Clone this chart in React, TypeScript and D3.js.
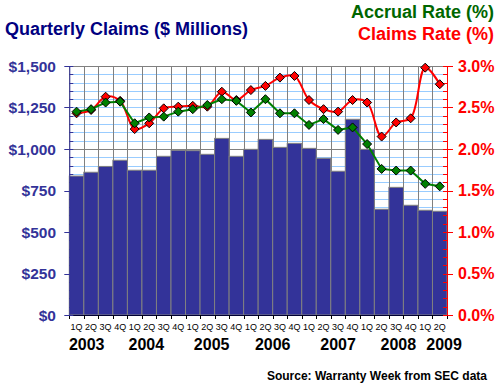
import React, { useEffect, useRef } from 'react';
import * as d3 from 'd3';

// 2003 Q1 .. 2009 Q2
const quarterLabels = ['1Q', '2Q', '3Q', '4Q'];
const years = ['2003', '2004', '2005', '2006', '2007', '2008', '2009'];
// where each year label sits, in quarter units from the left edge
const yearLabelCenters = [1.2, 5.3, 9.8, 14.0, 18.5, 22.65, 25.8];

const claims = [837, 860, 895, 932, 872, 872, 956, 992, 990, 968, 1064, 956, 998, 1058, 1010, 1034, 1004, 944, 866, 1179, 998, 637, 769, 661, 631, 625];
const accrualRate = [2.45, 2.48, 2.56, 2.57, 2.31, 2.38, 2.39, 2.45, 2.48, 2.53, 2.6, 2.58, 2.44, 2.6, 2.43, 2.43, 2.29, 2.36, 2.23, 2.26, 2.06, 1.76, 1.74, 1.74, 1.58, 1.55];
const claimsRate = [2.43, 2.47, 2.63, 2.58, 2.24, 2.31, 2.49, 2.51, 2.52, 2.51, 2.69, 2.59, 2.71, 2.76, 2.86, 2.88, 2.59, 2.48, 2.45, 2.59, 2.56, 2.15, 2.32, 2.37, 2.98, 2.78];

const leftTicks = [0, 250, 500, 750, 1000, 1250, 1500];
const rightTicks = [0, 0.5, 1.0, 1.5, 2.0, 2.5, 3.0];

const FONT = 'Liberation Sans, Arial, sans-serif';

const App = () => {
  const ref = useRef<SVGSVGElement>(null);

  useEffect(() => {
    const width = 500;
    const height = 387;
    const svg = d3.select(ref.current);
    svg.selectAll('*').remove();
    svg.attr('width', width).attr('height', height).style('background', '#fff');

    const quarters = claims.map((_, i) => `${years[Math.floor(i / 4)]}-${quarterLabels[i % 4]}`);

    const left = 69.3;
    const right = 447;
    const top = 66;
    const bottom = 315;

    const x = d3.scaleBand().domain(quarters).range([left, right]).padding(0);
    const yL = d3.scaleLinear().domain([0, 1500]).range([bottom, top]);
    const yR = d3.scaleLinear().domain([0, 3]).range([bottom, top]);
    const bw = x.bandwidth();
    const cx = (i: number) => (x(quarters[i]) as number) + bw / 2;

    // light blue minor grid
    const minor = d3.range(50, 1501, 50);
    svg.append('g')
      .selectAll('line')
      .data(minor)
      .enter()
      .append('line')
      .attr('x1', left)
      .attr('x2', right)
      .attr('y1', d => Math.round(yL(d)) + 0.5)
      .attr('y2', d => Math.round(yL(d)) + 0.5)
      .attr('stroke', d => (d % 500 === 0 ? '#808080' : '#99ccff'))
      .attr('stroke-width', 1);

    // vertical grey grid
    svg.append('g')
      .selectAll('line')
      .data(quarters)
      .enter()
      .append('line')
      .attr('x1', d => Math.round(x(d) as number) + 0.5)
      .attr('x2', d => Math.round(x(d) as number) + 0.5)
      .attr('y1', top)
      .attr('y2', bottom)
      .attr('stroke', '#808080')
      .attr('stroke-width', 1);

    // bars
    svg.append('g')
      .selectAll('rect')
      .data(claims)
      .enter()
      .append('rect')
      .attr('x', (d, i) => x(quarters[i]) as number)
      .attr('y', d => yL(d))
      .attr('width', bw)
      .attr('height', d => bottom - yL(d))
      .attr('fill', '#333399')
      .attr('stroke', '#808080')
      .attr('stroke-width', 1);

    // x axis
    svg.append('line')
      .attr('x1', left).attr('x2', right)
      .attr('y1', bottom + 0.5).attr('y2', bottom + 0.5)
      .attr('stroke', '#000033');
    svg.append('g')
      .selectAll('line')
      .data(d3.range(0, 27))
      .enter()
      .append('line')
      .attr('x1', i => Math.round(left + i * bw) + 0.5)
      .attr('x2', i => Math.round(left + i * bw) + 0.5)
      .attr('y1', bottom)
      .attr('y2', bottom + 4)
      .attr('stroke', '#000');

    svg.append('g')
      .selectAll('text')
      .data(quarters)
      .enter()
      .append('text')
      .attr('x', (d, i) => cx(i))
      .attr('y', 330)
      .attr('text-anchor', 'middle')
      .style('font-family', FONT)
      .style('font-size', '9px')
      .style('fill', '#000')
      .text((d, i) => quarterLabels[i % 4]);

    svg.append('g')
      .selectAll('text')
      .data(years)
      .enter()
      .append('text')
      .attr('x', (d, i) => left + yearLabelCenters[i] * bw)
      .attr('y', 350)
      .attr('text-anchor', 'middle')
      .style('font-family', FONT)
      .style('font-size', '16px')
      .style('font-weight', 'bold')
      .style('fill', '#000')
      .text(d => d);

    // left axis
    const la = svg.append('g');
    la.append('line')
      .attr('x1', left + 0.5).attr('x2', left + 0.5)
      .attr('y1', top).attr('y2', bottom)
      .attr('stroke', '#333399');
    la.selectAll('.minor')
      .data(d3.range(0, 1501, 50))
      .enter()
      .append('line')
      .attr('x1', d => (d % 250 === 0 ? left - 5 : left))
      .attr('x2', left + 4)
      .attr('y1', d => Math.round(yL(d)) + 0.5)
      .attr('y2', d => Math.round(yL(d)) + 0.5)
      .attr('stroke', '#333399');
    la.selectAll('text')
      .data(leftTicks)
      .enter()
      .append('text')
      .attr('x', 56)
      .attr('y', d => yL(d) + 5.5)
      .attr('text-anchor', 'end')
      .style('font-family', FONT)
      .style('font-size', '15.5px')
      .style('font-weight', 'bold')
      .style('fill', '#333399')
      .text(d => (d === 0 ? '$0' : `$${d3.format(',')(d)}`));

    // right axis
    const ra = svg.append('g');
    ra.append('line')
      .attr('x1', right + 0.5).attr('x2', right + 0.5)
      .attr('y1', top).attr('y2', bottom)
      .attr('stroke', '#ff0000');
    ra.selectAll('line.t')
      .data(d3.range(0, 31).map(d => d / 10))
      .enter()
      .append('line')
      .attr('x1', right - 4)
      .attr('x2', (d, i) => (i % 5 === 0 ? right + 6 : right))
      .attr('y1', d => Math.round(yR(d)) + 0.5)
      .attr('y2', d => Math.round(yR(d)) + 0.5)
      .attr('stroke', '#ff0000');
    ra.selectAll('text')
      .data(rightTicks)
      .enter()
      .append('text')
      .attr('x', 458)
      .attr('y', d => yR(d) + 5.5)
      .style('font-family', FONT)
      .style('font-size', '16px')
      .style('font-weight', 'bold')
      .style('fill', '#ff0000')
      .text(d => `${d.toFixed(1)}%`);

    const diamond = (px: number, py: number) =>
      `M${px},${py - 4.5}L${px + 4.5},${py}L${px},${py + 4.5}L${px - 4.5},${py}Z`;

    // claims rate (smoothed)
    const redLine = d3.line<number>()
      .x((d, i) => cx(i))
      .y(d => yR(d))
      .curve(d3.curveCatmullRom.alpha(0.5));
    svg.append('path')
      .datum(claimsRate)
      .attr('fill', 'none')
      .attr('stroke', '#ff0000')
      .attr('stroke-width', 2)
      .attr('d', redLine);
    svg.append('g')
      .selectAll('path')
      .data(claimsRate)
      .enter()
      .append('path')
      .attr('d', (d, i) => diamond(cx(i), yR(d)))
      .attr('fill', '#ff0000')
      .attr('stroke', '#000')
      .attr('stroke-width', 1);

    // accrual rate
    const greenLine = d3.line<number>()
      .x((d, i) => cx(i))
      .y(d => yR(d));
    svg.append('path')
      .datum(accrualRate)
      .attr('fill', 'none')
      .attr('stroke', '#008000')
      .attr('stroke-width', 2)
      .attr('d', greenLine);
    svg.append('g')
      .selectAll('path')
      .data(accrualRate)
      .enter()
      .append('path')
      .attr('d', (d, i) => diamond(cx(i), yR(d)))
      .attr('fill', '#008000')
      .attr('stroke', '#000')
      .attr('stroke-width', 1);

    // titles
    svg.append('text')
      .attr('x', 5)
      .attr('y', 35)
      .style('font-family', FONT)
      .style('font-size', '18px')
      .style('font-weight', 'bold')
      .style('fill', '#000080')
      .text('Quarterly Claims ($ Millions)');
    svg.append('text')
      .attr('x', 494)
      .attr('y', 17.5)
      .attr('text-anchor', 'end')
      .style('font-family', FONT)
      .style('font-size', '18px')
      .style('font-weight', 'bold')
      .style('fill', '#006600')
      .text('Accrual Rate (%)');
    svg.append('text')
      .attr('x', 494)
      .attr('y', 40)
      .attr('text-anchor', 'end')
      .style('font-family', FONT)
      .style('font-size', '18px')
      .style('font-weight', 'bold')
      .style('fill', '#ff0000')
      .text('Claims Rate (%)');
    svg.append('text')
      .attr('x', 487)
      .attr('y', 380)
      .attr('text-anchor', 'end')
      .style('font-family', FONT)
      .style('font-size', '12px')
      .style('font-weight', 'bold')
      .style('fill', '#000')
      .text('Source: Warranty Week from SEC data');
  }, []);

  return <svg ref={ref} style={{ position: 'absolute', left: 0, top: 0 }}></svg>;
};

export default App;
